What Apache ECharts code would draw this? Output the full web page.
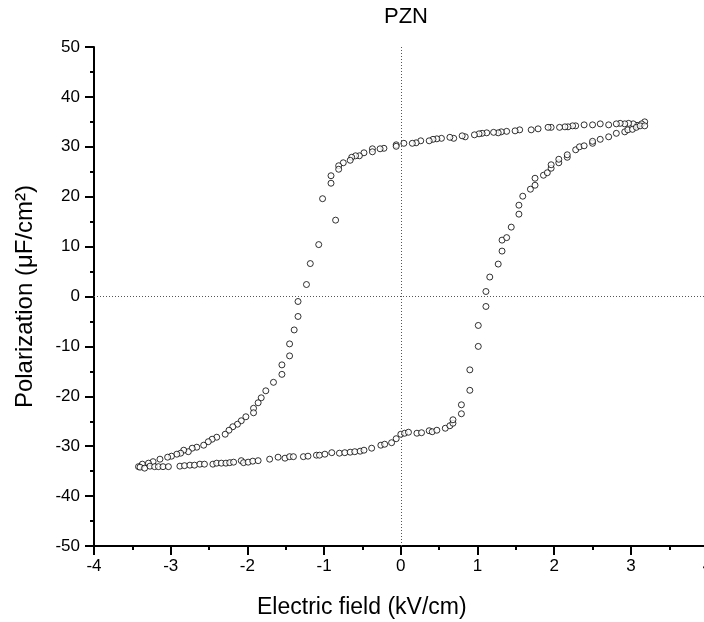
<!DOCTYPE html>
<html>
<head>
<meta charset="utf-8">
<script src="https://cdn.jsdelivr.net/npm/echarts@6/dist/echarts.min.js"></script>
<style>html,body{margin:0;padding:0;background:#fff;}#c{width:704px;height:622px;}</style>
</head>
<body>
<div id="c"></div>
<script>
const titleText = "PZN";
const xName = "Electric field (kV/cm)";
const yName = "Polarization (\u03bcF/cm\u00b2)";
const xTicks = [-4, -3, -2, -1, 0, 1, 2, 3, 4];
const yTicks = [-50, -40, -30, -20, -10, 0, 10, 20, 30, 40, 50];

// descending branch (from +E max to -E max)
const upperX = [3.18, 3.14, 3.08, 3.03, 2.97, 2.92, 2.86, 2.81, 2.71, 2.60, 2.50, 2.39, 2.28, 2.24, 2.18, 2.14, 2.07, 1.96, 1.92, 1.79, 1.70, 1.55, 1.49, 1.38, 1.31, 1.27, 1.21, 1.12, 1.06, 1.02, 0.96, 0.84, 0.80, 0.69, 0.64, 0.53, 0.47, 0.42, 0.37, 0.26, 0.20, 0.15, 0.04, -0.06, -0.06, -0.22, -0.27, -0.37, -0.37, -0.48, -0.54, -0.59, -0.64, -0.66, -0.75, -0.81, -0.81, -0.91, -0.91, -1.02, -0.85, -1.07, -1.18, -1.23, -1.34, -1.34, -1.39, -1.45, -1.45, -1.55, -1.55, -1.66, -1.76, -1.82, -1.86, -1.92, -1.92, -2.02, -2.08, -2.13, -2.19, -2.24, -2.29, -2.40, -2.46, -2.51, -2.57, -2.66, -2.72, -2.77, -2.83, -2.87, -2.92, -2.99, -3.04, -3.14, -3.23, -3.29, -3.37, -3.42];
const upperY = [35.0, 34.6, 34.3, 34.6, 34.7, 34.6, 34.7, 34.6, 34.4, 34.6, 34.4, 34.4, 34.2, 34.2, 34.0, 34.0, 33.9, 33.9, 33.9, 33.6, 33.4, 33.4, 33.2, 33.1, 33.0, 32.8, 32.9, 32.8, 32.7, 32.6, 32.4, 32.0, 32.2, 31.7, 31.9, 31.7, 31.6, 31.5, 31.2, 31.2, 30.8, 30.7, 30.7, 30.4, 30.1, 29.7, 29.6, 29.6, 29.0, 28.8, 28.2, 28.2, 27.9, 27.3, 26.8, 26.2, 25.5, 24.2, 22.7, 19.6, 15.3, 10.4, 6.6, 2.4, -1.0, -4.0, -6.7, -9.5, -11.9, -13.7, -15.6, -17.2, -18.9, -20.3, -21.3, -22.4, -23.3, -24.1, -24.9, -25.6, -26.1, -26.8, -27.6, -28.2, -28.6, -29.1, -29.8, -30.2, -30.4, -31.1, -30.8, -31.4, -31.6, -32.0, -32.2, -32.6, -33.1, -33.4, -33.6, -34.1];

// ascending branch (from -E max to +E max)
const lowerX = [-3.40, -3.34, -3.27, -3.21, -3.16, -3.10, -3.03, -2.88, -2.82, -2.75, -2.69, -2.62, -2.56, -2.45, -2.40, -2.34, -2.28, -2.23, -2.18, -2.08, -2.05, -1.99, -1.93, -1.86, -1.71, -1.60, -1.51, -1.45, -1.40, -1.27, -1.21, -1.10, -1.06, -0.99, -0.90, -0.80, -0.73, -0.66, -0.60, -0.53, -0.48, -0.38, -0.26, -0.21, -0.12, -0.06, 0.00, 0.05, 0.10, 0.21, 0.27, 0.37, 0.41, 0.47, 0.58, 0.64, 0.68, 0.68, 0.79, 0.79, 0.90, 0.90, 1.01, 1.01, 1.11, 1.11, 1.16, 1.27, 1.32, 1.32, 1.38, 1.44, 1.54, 1.54, 1.59, 1.69, 1.75, 1.75, 1.86, 1.91, 1.96, 1.96, 2.06, 2.06, 2.17, 2.17, 2.28, 2.33, 2.39, 2.50, 2.50, 2.60, 2.71, 2.81, 2.92, 2.96, 3.02, 3.07, 3.12, 3.18];
const lowerY = [-34.2, -34.4, -34.0, -34.1, -34.1, -34.1, -34.1, -34.0, -33.9, -33.8, -33.8, -33.6, -33.6, -33.6, -33.4, -33.4, -33.4, -33.3, -33.2, -32.9, -33.3, -33.2, -33.0, -32.9, -32.6, -32.2, -32.4, -32.1, -32.1, -32.1, -32.0, -31.8, -31.8, -31.6, -31.3, -31.4, -31.3, -31.2, -31.1, -31.0, -30.8, -30.4, -29.8, -29.6, -29.3, -28.5, -27.6, -27.4, -27.2, -27.4, -27.3, -26.9, -27.1, -26.8, -26.4, -25.9, -25.4, -24.7, -23.5, -21.7, -18.8, -14.7, -10.0, -5.8, -2.0, 1.0, 3.9, 6.5, 9.1, 11.3, 11.8, 13.9, 16.5, 18.3, 20.1, 21.5, 22.3, 23.7, 24.3, 24.8, 25.7, 26.4, 26.8, 27.5, 27.9, 28.4, 29.4, 30.0, 30.2, 30.7, 31.1, 31.5, 32.0, 32.7, 33.0, 33.4, 33.5, 33.9, 34.2, 34.2];

const upperData = upperX.map((x, i) => [x, upperY[i]]);
const lowerData = lowerX.map((x, i) => [x, lowerY[i]]);

const font = "'Liberation Sans', Arial, sans-serif";
const markerStyle = { color: '#ffffff', borderColor: '#000000', borderWidth: 1 };

const chart = echarts.init(document.getElementById('c'), null, { renderer: 'canvas' });
chart.setOption({
  animation: false,
  backgroundColor: '#ffffff',
  title: {
    text: titleText, left: 379, top: 1,
    textStyle: { fontFamily: font, fontSize: 22, fontWeight: 'normal', color: '#000' }
  },
  grid: { left: 94, top: 47, width: 613.6, height: 499, containLabel: false, outerBoundsMode: 'none' },
  xAxis: {
    type: 'value', min: xTicks[0], max: xTicks[xTicks.length - 1], interval: 1,
    name: xName, nameLocation: 'middle', nameGap: 50,
    nameTextStyle: { fontFamily: font, fontSize: 23, color: '#000', padding: [0, 78, 0, 0] },
    axisLine: { show: true, onZero: false, lineStyle: { color: '#000', width: 2 } },
    axisTick: { show: true, inside: false, length: 9, lineStyle: { color: '#000', width: 2 } },
    minorTick: { show: true, splitNumber: 2, length: 4, lineStyle: { color: '#000', width: 2 } },
    axisLabel: { fontFamily: font, fontSize: 17, color: '#000', margin: 12 },
    splitLine: { show: false }
  },
  yAxis: {
    type: 'value', min: yTicks[0], max: yTicks[yTicks.length - 1], interval: 10,
    name: yName, nameLocation: 'middle', nameGap: 57,
    nameTextStyle: { fontFamily: font, fontSize: 24, color: '#000' },
    axisLine: { show: true, onZero: false, lineStyle: { color: '#000', width: 2 } },
    axisTick: { show: true, inside: false, length: 9, lineStyle: { color: '#000', width: 2 } },
    minorTick: { show: true, splitNumber: 2, length: 4, lineStyle: { color: '#000', width: 2 } },
    axisLabel: { fontFamily: font, fontSize: 17, color: '#000', margin: 14 },
    splitLine: { show: false }
  },
  series: [
    {
      type: 'scatter', data: upperData, symbol: 'circle', symbolSize: 6,
      itemStyle: markerStyle, z: 3,
      markLine: {
        silent: true, symbol: 'none', label: { show: false },
        lineStyle: { color: '#555', type: [1, 2], width: 1 },
        data: [{ xAxis: 0 }, { yAxis: 0 }]
      }
    },
    {
      type: 'scatter', data: lowerData, symbol: 'circle', symbolSize: 6,
      itemStyle: markerStyle, z: 3
    }
  ]
});
</script>
</body>
</html>
